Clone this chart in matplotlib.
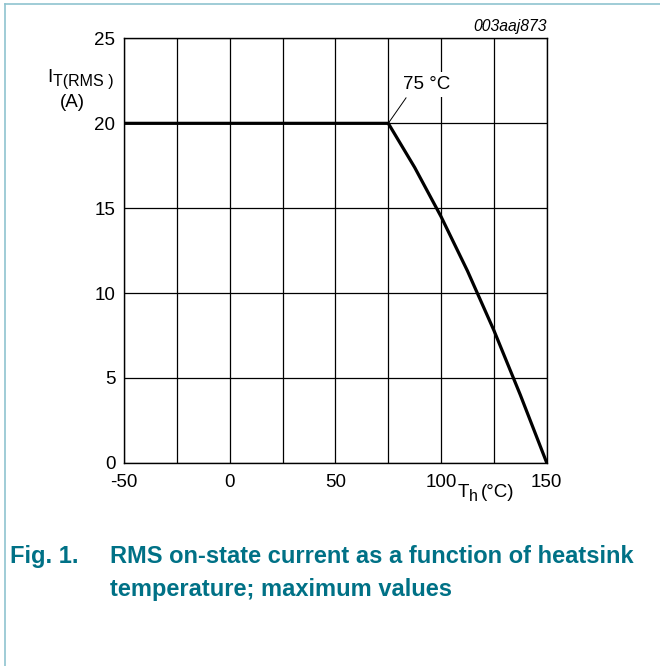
import matplotlib.pyplot as plt
from matplotlib.lines import Line2D

plt.rcParams['font.family'] = ['Liberation Sans', 'DejaVu Sans']
plt.rcParams['axes.unicode_minus'] = False

# derating curve
temps = [-50, 75, 87.5, 100, 112.5, 125, 137.5, 150]
current = [20, 20, 17.4, 14.5, 11.3, 7.8, 4.0, 0]

x_ticks = [-50, 0, 50, 100, 150]
x_grid = [-25, 25, 75, 125]
y_ticks = [0, 5, 10, 15, 20, 25]

caption_color = "#007186"
W, H = 660, 666


def px(x, y):
    # pixel position -> figure fraction
    return x / W, 1 - y / H


fig = plt.figure(figsize=(6.6, 6.66), dpi=100)
ax = fig.add_axes([0.1883, 0.3053, 0.64, 0.6369])

ax.set_xlim(-50, 150)
ax.set_ylim(0, 25)
ax.set_xticks(x_ticks)
ax.set_xticks(x_grid, minor=True)
ax.set_yticks(y_ticks)
ax.tick_params(which="both", length=0, labelsize=13.5)
ax.tick_params(axis="x", pad=8)
ax.tick_params(axis="y", pad=6.5)
ax.grid(True, which="both", color="black", linewidth=0.9)
for s in ax.spines.values():
    s.set_linewidth(1.0)

ax.plot(temps, current, color="black", linewidth=2.3, solid_joinstyle="round", zorder=3)

# annotation at the knee
ax.plot([75, 83.4], [20, 21.5], color="black", linewidth=0.7, zorder=3)
ax.text(93.3, 22.3, "75 °C", ha="center", va="center", fontsize=13.5,
        bbox=dict(facecolor="white", edgecolor="none", pad=3), zorder=4)

# axis labels
fig.text(*px(47, 82), "I", fontsize=13.5, ha="left", va="baseline")
fig.text(*px(53, 86), "T(RMS )", fontsize=11.5, ha="left", va="baseline")
fig.text(*px(72, 107), "(A)", fontsize=13.5, ha="center", va="baseline")
fig.text(*px(458, 497), "T", fontsize=13.5, ha="left", va="baseline")
fig.text(*px(469, 501), "h", fontsize=11.5, ha="left", va="baseline")
fig.text(*px(481, 497), "(°C)", fontsize=13.5, ha="left", va="baseline")

fig.text(*px(547, 31), "003aaj873", fontsize=11.3, style="italic", ha="right", va="baseline")

# caption
fig.text(*px(10, 563), "Fig. 1.", fontsize=17, fontweight="bold", color=caption_color,
         ha="left", va="baseline")
fig.text(*px(110, 563), "RMS on-state current as a function of heatsink", fontsize=17,
         fontweight="bold", color=caption_color, ha="left", va="baseline")
fig.text(*px(110, 596), "temperature; maximum values", fontsize=17,
         fontweight="bold", color=caption_color, ha="left", va="baseline")

# page frame lines (top and left)
fig.add_artist(Line2D([0.008, 1.0], [0.994, 0.994], color="#8fc3cf", linewidth=1.2))
fig.add_artist(Line2D([0.008, 0.008], [0.0, 0.994], color="#8fc3cf", linewidth=1.2))

fig.savefig("out.png", dpi=100)
